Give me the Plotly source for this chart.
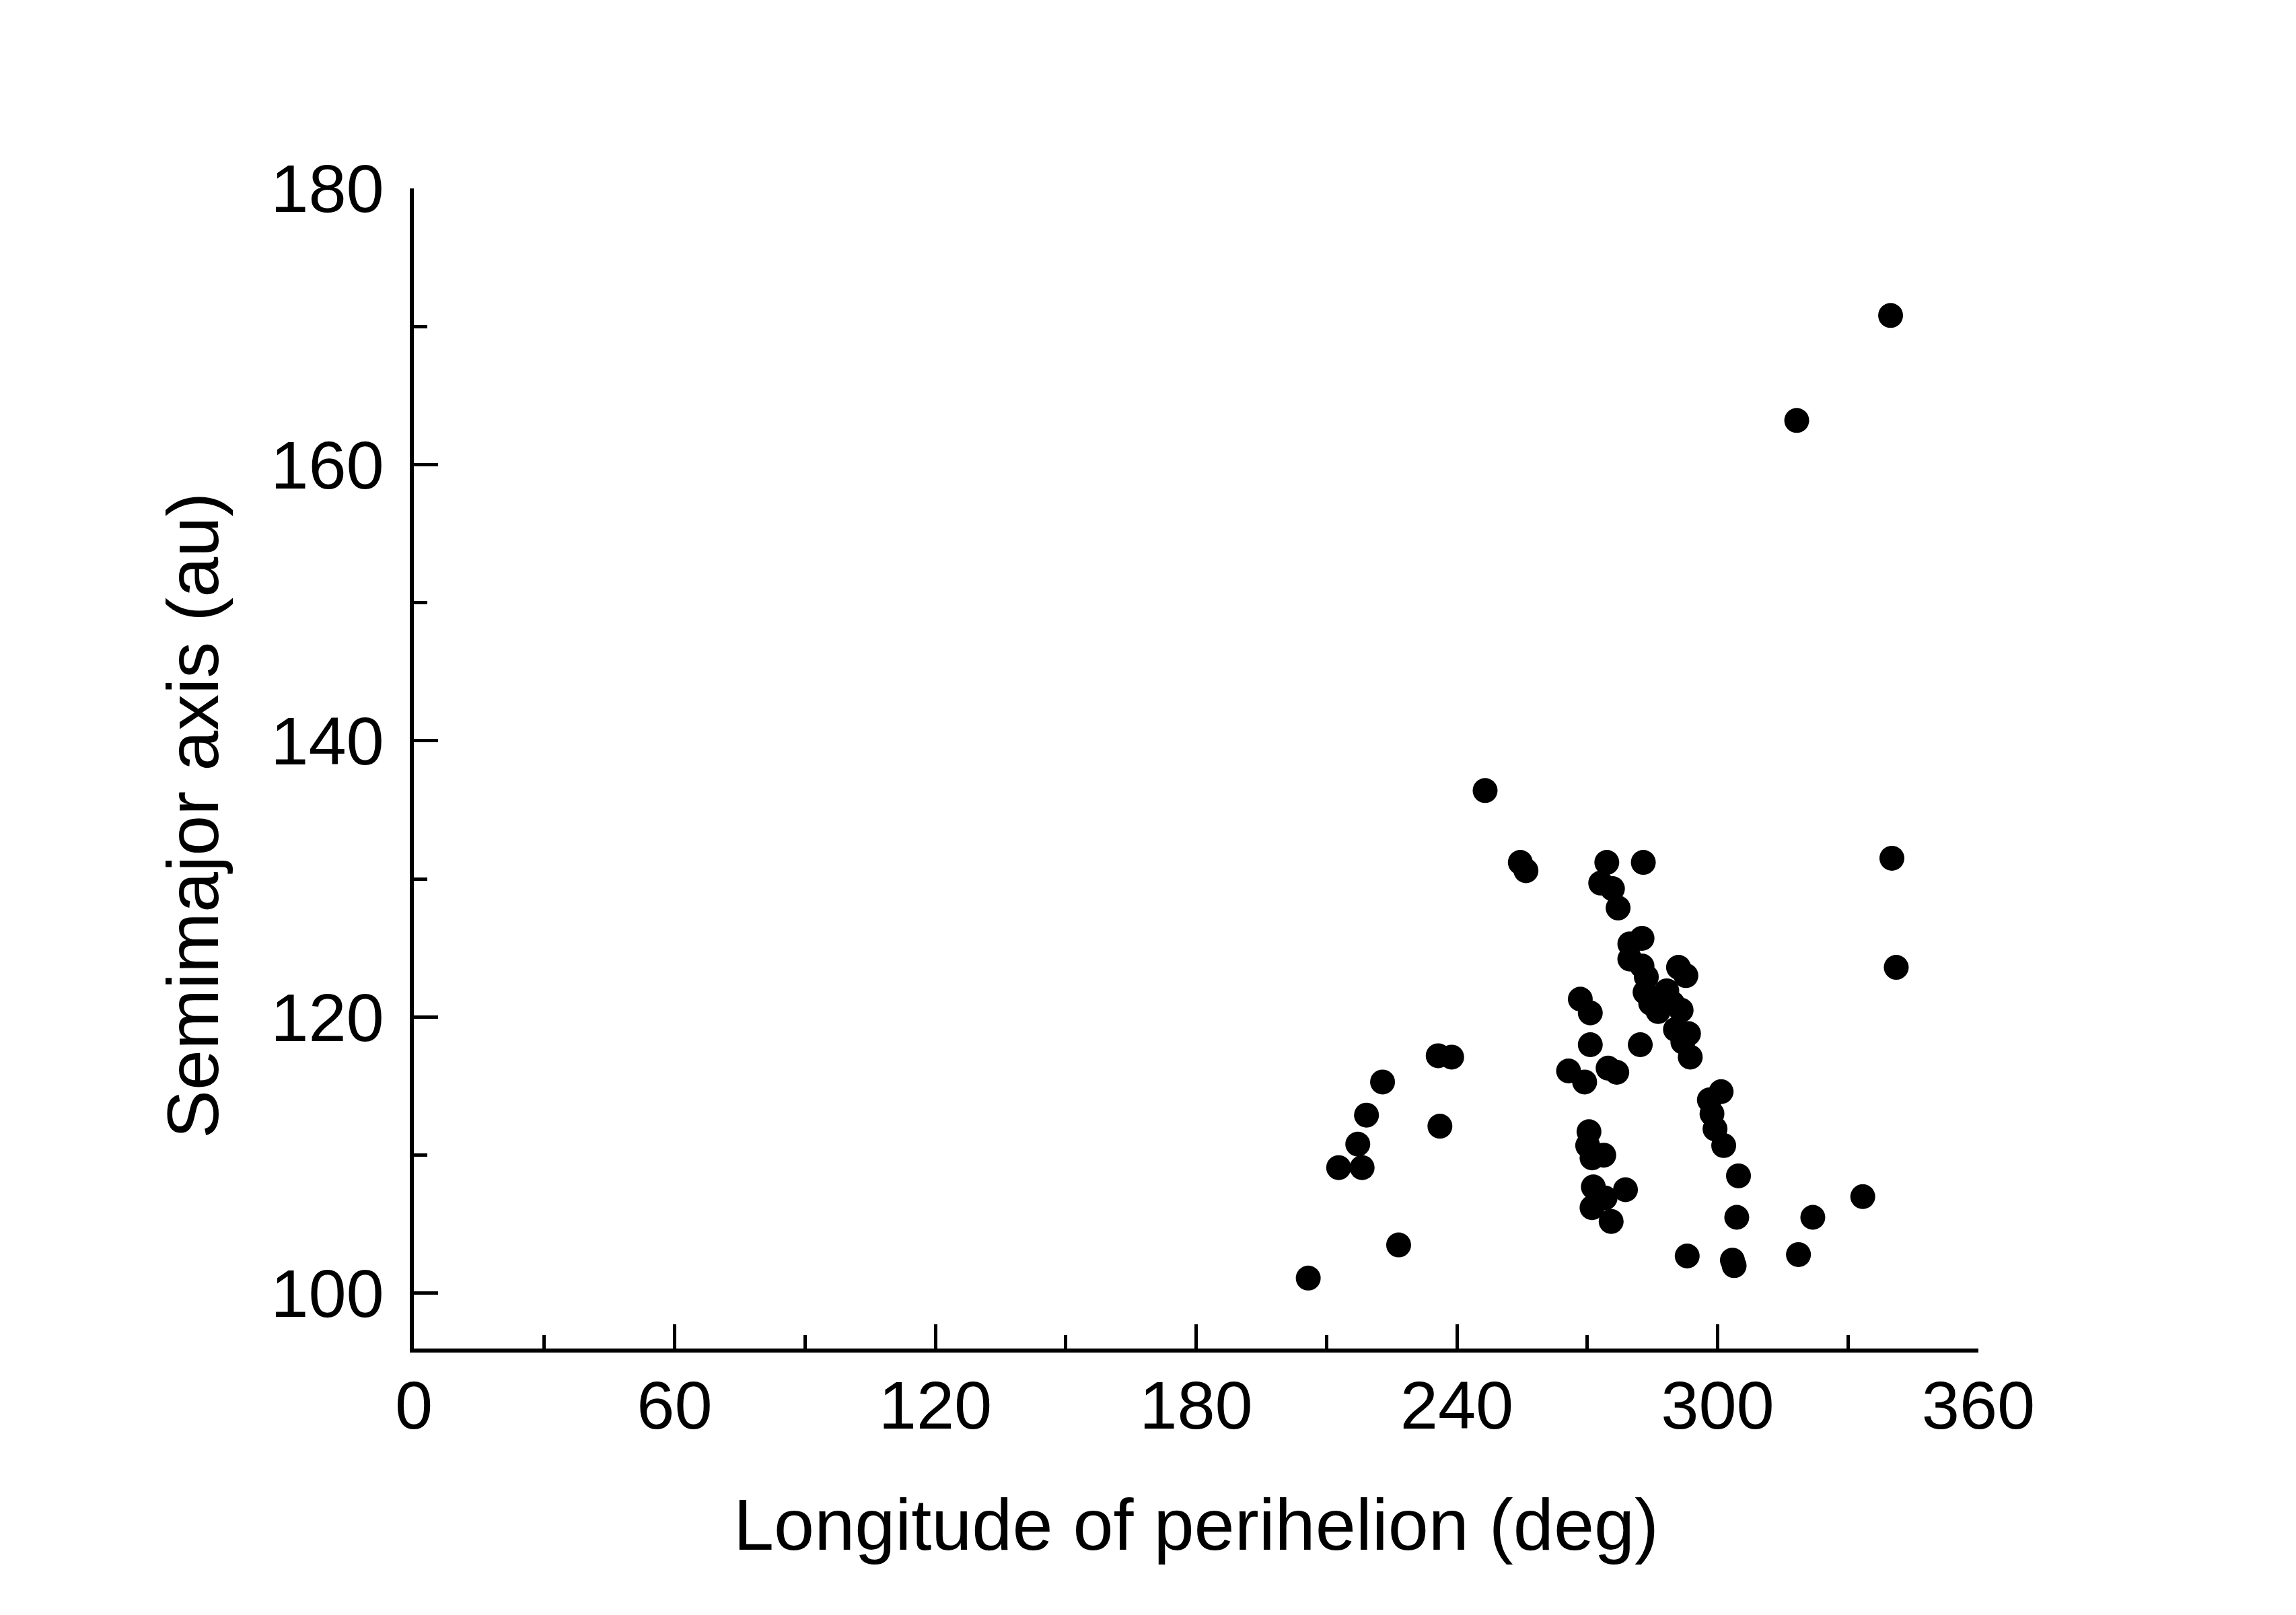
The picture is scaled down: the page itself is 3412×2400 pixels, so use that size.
import plotly.graph_objects as go

# longitude of perihelion (deg) and semimajor axis (au)
lon_perihelion = [
    205.8, 212.8, 217.2, 218.2, 219.2, 222.9, 226.6, 235.7, 238.8, 236.1,
    246.5, 254.6, 255.9, 265.7, 268.4, 270.7, 269.4, 270.7, 270.4, 270.1,
    271.1, 273.8, 271.4, 271.1, 274.1, 275.5, 278.8, 274.8, 276.8, 273.1,
    274.5, 275.8, 277.1, 282.9, 279.8, 282.6, 279.8, 282.6, 283.6, 283.3,
    284.6, 286.3, 282.2, 288.3, 291.0, 292.7, 289.6, 291.6, 290.3, 293.3,
    292.0, 293.7, 298.1, 300.8, 298.7, 299.4, 301.4, 304.8, 304.4, 293.0,
    303.4, 303.8, 318.2, 339.8, 340.1, 341.1, 318.6, 321.9, 333.4,
]
semimajor = [
    101.1, 109.1, 110.8, 109.1, 112.9, 115.3, 103.5, 117.2, 117.1, 112.1,
    136.4, 131.2, 130.6, 116.1, 121.3, 120.3, 115.3, 118.0, 111.7, 110.7,
    109.8, 110.0, 107.7, 106.2, 106.9, 105.2, 107.5, 116.3, 116.0, 129.7,
    131.2, 129.3, 127.9, 131.2, 125.3, 125.7, 124.2, 123.7, 122.9, 121.8,
    121.0, 120.4, 118.0, 121.9, 123.6, 123.0, 121.0, 120.5, 119.1, 118.8,
    118.2, 117.1, 114.0, 114.6, 113.0, 111.9, 110.7, 108.5, 105.5, 102.7,
    102.4, 102.0, 163.2, 170.8, 131.5, 123.6, 102.8, 105.5, 107.0,
]

x_ticks = [0, 60, 120, 180, 240, 300, 360]
y_ticks = [100, 120, 140, 160, 180]

font = "Arial, Liberation Sans, sans-serif"

fig = go.Figure()
fig.add_trace(go.Scatter(
    x=lon_perihelion, y=semimajor, mode="markers",
    marker=dict(color="black", size=37, line=dict(width=0)),
    showlegend=False,
))

axis_style = dict(
    showline=True, linecolor="black", linewidth=6,
    showgrid=False, zeroline=False,
    ticks="inside", ticklen=36, tickwidth=5, tickcolor="black",
    tickfont=dict(family=font, size=101, color="black"),
)

fig.update_xaxes(
    range=[0, 360], tickvals=x_ticks,
    minor=dict(ticks="inside", ticklen=20, tickwidth=5, tickcolor="black", dtick=30, tick0=0),
    title=dict(text="Longitude of perihelion (deg)",
               font=dict(family=font, size=108, color="black"), standoff=86),
    ticklabelstandoff=-8,
    **axis_style,
)
fig.update_yaxes(
    range=[96, 180], tickvals=y_ticks,
    minor=dict(ticks="inside", ticklen=20, tickwidth=5, tickcolor="black", dtick=10, tick0=100),
    ticklabelstandoff=18,
    **axis_style,
)

# y title sits a bit below the axis centre in the original
fig.add_annotation(
    text="Semimajor axis (au)", textangle=-90,
    xref="paper", x=-0.141, xanchor="center",
    yref="y", y=134.6, yanchor="middle",
    showarrow=False, font=dict(family=font, size=108, color="black"),
)

fig.update_layout(
    width=3412, height=2400,
    margin=dict(l=607, r=480, t=272, b=404),
    paper_bgcolor="white", plot_bgcolor="white",
)

fig.write_html("out.html")
